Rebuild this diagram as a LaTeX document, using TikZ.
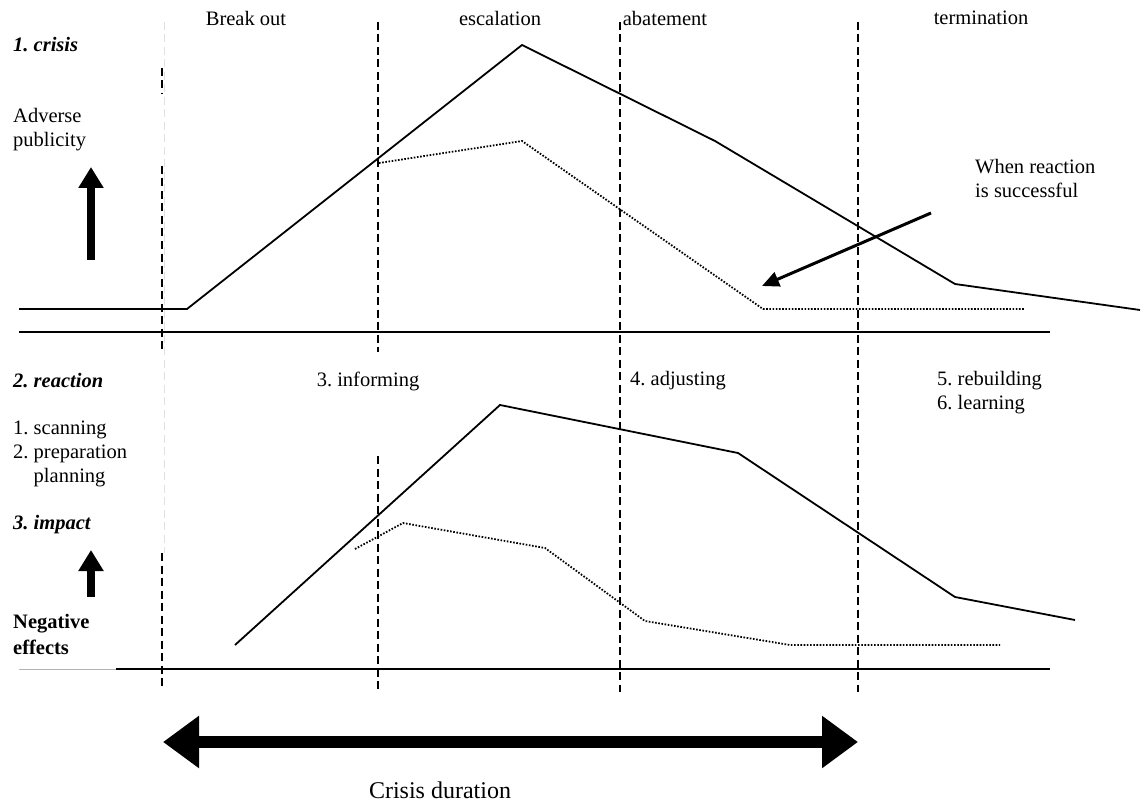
\documentclass[tikz,border=0pt]{standalone}
\usepackage{fontspec}
\setmainfont{Liberation Serif}
\usetikzlibrary{arrows.meta}
\begin{document}
\frenchspacing
\begin{tikzpicture}[x=1pt,y=-1pt,
  lbl/.style={font=\fontsize{20.5}{24}\selectfont, inner sep=0pt},
  head/.style={lbl, font=\fontsize{20.5}{24}\selectfont\bfseries\itshape},
  axis/.style={line width=2pt},
  curve/.style={line width=1.8pt, line join=miter},
  dotcurve/.style={line width=1.8pt, dash pattern=on 1.6pt off 1.6pt},
  phase/.style={line width=2pt, dash pattern=on 8pt off 4.5pt},
  faint/.style={line width=1pt, black!12, dash pattern=on 8pt off 4.5pt},
  bigup/.style={line width=8pt, -{Triangle[length=21pt,width=24pt]}}
]
\useasboundingbox (0,0) rectangle (1142,802);

% faint guide behind the first phase boundary
\coordinate (g1) at (164,22);
\coordinate (g2) at (164,553);
\draw[faint] (g1) -- (g2);

% phase boundaries
\coordinate (a1) at (162,68);   \coordinate (a2) at (162,94);
\coordinate (a3) at (162,166);  \coordinate (a4) at (162,350);
\coordinate (a5) at (162,553);  \coordinate (a6) at (162,690);
\draw[phase] (a1) -- (a2);
\draw[phase] (a3) -- (a4);
\draw[phase] (a5) -- (a6);
\coordinate (b1) at (378,22);   \coordinate (b2) at (378,352);
\coordinate (b3) at (378,456);  \coordinate (b4) at (378,692);
\draw[phase] (b1) -- (b2);
\draw[phase] (b3) -- (b4);
\coordinate (c1) at (620,22);   \coordinate (c2) at (620,692);
\draw[phase] (c1) -- (c2);
\coordinate (e1) at (858,22);   \coordinate (e2) at (858,692);
\draw[phase] (e1) -- (e2);

% axes
\coordinate (ax1) at (19,332);  \coordinate (ax2) at (1050,332);
\draw[axis] (ax1) -- (ax2);
\coordinate (bx0) at (19,669);  \coordinate (bx1) at (116,669);
\coordinate (bx2) at (1050,669);
\draw[line width=1pt, black!30] (bx0) -- (bx1);
\draw[axis] (bx1) -- (bx2);

% crisis curve
\coordinate (p1) at (19,309);   \coordinate (p2) at (187,309);
\coordinate (p3) at (522,45);   \coordinate (p4) at (715,141);
\coordinate (p5) at (955,284);  \coordinate (p6) at (1140,310);
\draw[curve] (p1) -- (p2) -- (p3) -- (p4) -- (p5) -- (p6);

% crisis curve with a successful reaction
\coordinate (q1) at (379,163);  \coordinate (q2) at (522,141);
\coordinate (q3) at (763,309);  \coordinate (q4) at (1025,309);
\draw[dotcurve] (q1) -- (q2) -- (q3) -- (q4);

% impact curve
\coordinate (r1) at (235,645);  \coordinate (r2) at (500,405);
\coordinate (r3) at (738,453);  \coordinate (r4) at (955,597);
\coordinate (r5) at (1075,620);
\draw[curve] (r1) -- (r2) -- (r3) -- (r4) -- (r5);

% impact curve with a successful reaction
\coordinate (s1) at (355,549);  \coordinate (s2) at (403,523);
\coordinate (s3) at (545,548);  \coordinate (s4) at (645,621);
\coordinate (s5) at (790,645);  \coordinate (s6) at (1000,645);
\draw[dotcurve] (s1) -- (s2) -- (s3) -- (s4) -- (s5) -- (s6);

% phase names
\node[lbl] (n1) at (246,18) {Break out};
\node[lbl] (n2) at (500,18) {escalation};
\node[lbl] (n3) at (665,18) {abatement};
\node[lbl] (n4) at (981,18) {termination};

% left-hand legend, top
\node[head, anchor=west] (h1) at (13,45) {1. crisis};
\node[lbl, anchor=west, align=left] (h2) at (13,130) {Adverse\\publicity};
\coordinate (u1) at (91,260);   \coordinate (u2) at (91,167);
\draw[bigup] (u1) -- (u2);

% note on the successful reaction
\node[lbl, anchor=west, align=left] (w1) at (975,178) {When reaction\\is successful};
\coordinate (w2) at (931,213);  \coordinate (w3) at (762,286);
\draw[line width=3pt, -{Triangle[length=17pt,width=15pt]}] (w2) -- (w3);

% reaction stages
\node[lbl] (i1) at (368,381) {3. informing};
\node[lbl] (i2) at (678,381) {4. adjusting};
\node[lbl, anchor=west, align=left] (i3) at (937,393) {5. rebuilding\\6. learning};

% left-hand legend, bottom
\node[head, anchor=west] (k1) at (13,381) {2. reaction};
\node[lbl, anchor=west, align=left] (k2) at (13,454) {1. scanning\\2. preparation\\\hphantom{2. }planning};
\node[head, anchor=west] (k3) at (13,525) {3. impact};
\coordinate (v1) at (91,597);   \coordinate (v2) at (91,550);
\draw[bigup] (v1) -- (v2);
\node[lbl, anchor=west, align=left, font=\fontsize{20.5}{26}\selectfont\bfseries] (k4) at (13,634) {Negative\\effects};

% duration
\coordinate (t1) at (163,742);  \coordinate (t2) at (858,742);
\draw[line width=12pt, {Triangle[length=36pt,width=50pt]}-{Triangle[length=36pt,width=50pt]}] (t1) -- (t2);
\node[lbl, font=\fontsize{24}{28}\selectfont] (t3) at (440,790) {Crisis duration};
\end{tikzpicture}
\end{document}
